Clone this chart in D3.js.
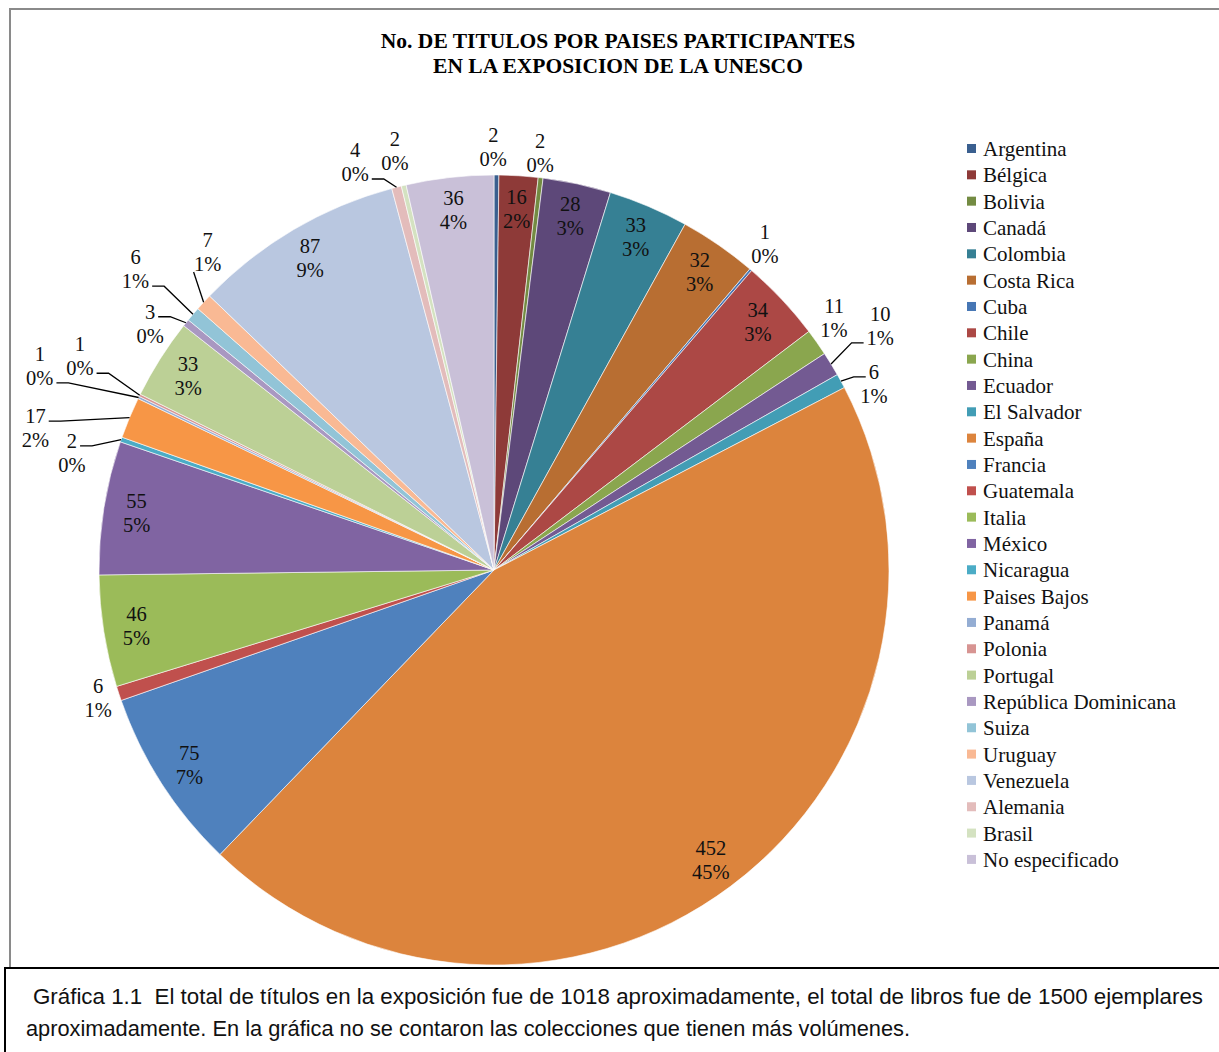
<!DOCTYPE html>
<html>
<head>
<meta charset="utf-8">
<script src="https://cdn.jsdelivr.net/npm/d3@7"></script>
<style>
  body { margin: 0; background: #fff; }
  svg { display: block; }
  .lbl { font-family: "Liberation Serif", "Times New Roman", serif; font-size: 20.5px; fill: #111; }
  .leg { font-family: "Liberation Serif", "Times New Roman", serif; font-size: 21px; fill: #111; }
</style>
</head>
<body>
<div id="chart"></div>
<script>
const COUNTRIES = ['Argentina', 'Bélgica', 'Bolivia', 'Canadá', 'Colombia', 'Costa Rica', 'Cuba', 'Chile', 'China',
  'Ecuador', 'El Salvador', 'España', 'Francia', 'Guatemala', 'Italia', 'México', 'Nicaragua', 'Paises Bajos',
  'Panamá', 'Polonia', 'Portugal', 'República Dominicana', 'Suiza', 'Uruguay', 'Venezuela', 'Alemania', 'Brasil',
  'No especificado'];
const TITLES = [2, 16, 2, 28, 33, 32, 1, 34, 11, 10, 6, 452, 75, 6, 46, 55, 2, 17, 1, 1, 33, 3, 6, 7, 87, 4, 2, 36];
const COLORS = ['#3a5f8f', '#8e3a38', '#738b42', '#5d4879', '#368094', '#b86e32', '#4676b4', '#ac4845', '#8aa64e',
  '#735a92', '#429db5', '#dc843d', '#4f81bd', '#c0504d', '#9bbb59', '#8064a2', '#4bacc6', '#f79646',
  '#94add3', '#d79492', '#bcd096', '#a998c1', '#92c4d7', '#f9b994', '#b9c7e0', '#e3bcbb', '#d4e2c1', '#c9c0d8'];
const TITLE_LINES = ['No. DE TITULOS POR PAISES PARTICIPANTES', 'EN LA EXPOSICION DE LA UNESCO'];
const CAPTION = ['Gráfica 1.1  El total de títulos en la exposición fue de 1018 aproximadamente, el total de libros fue de 1500 ejemplares',
  'aproximadamente. En la gráfica no se contaron las colecciones que tienen más volúmenes.'];

// outside labels: [angle deg, radius, leader: -1 none, 0 first line, 1 second line, 2 below]
const outside = {
  'Argentina': [359.9, 423, -1], 'Bolivia': [6.3, 420, -1], 'Cuba': [39.7, 424, -1],
  'China': [53.5, 423, -1], 'Ecuador': [57.7, 457, 1], 'El Salvador': [63.9, 423, 0],
  'Guatemala': [252.1, 416, -1], 'Nicaragua': [285.5, 438, 0], 'Paises Bajos': [287.2, 480, 0],
  'Panamá': [294.2, 498, 1], 'Polonia': [297.3, 466, 1], 'República Dominicana': [305.6, 423, 0],
  'Suiza': [310, 468, 1], 'Uruguay': [318, 428, 2], 'Alemania': [341.2, 431, 1], 'Brasil': [346.7, 431, -1]
};

const W = 1219, H = 1052;
const cx = 494, cy = 570, R = 395;

const svg = d3.select('#chart').append('svg')
  .attr('width', W).attr('height', H);

// chart frame
svg.append('rect')
  .attr('x', 10).attr('y', 9).attr('width', 1300).attr('height', 1000)
  .attr('fill', 'none').attr('stroke', '#8a8a8a').attr('stroke-width', 2);

svg.selectAll('.title').data(TITLE_LINES).enter().append('text')
  .attr('x', 618).attr('y', (d, i) => 48 + i * 25)
  .attr('text-anchor', 'middle')
  .style('font-family', '"Liberation Serif", "Times New Roman", serif')
  .style('font-weight', 'bold').style('font-size', '21.5px')
  .text(d => d);

const data = COUNTRIES.map((c, i) => ({ name: c, value: TITLES[i], color: COLORS[i] }));
const total = d3.sum(TITLES);

const pie = d3.pie().sort(null).value(d => d.value);
const arcs = pie(data);
const arc = d3.arc().innerRadius(0).outerRadius(R);

const g = svg.append('g').attr('transform', 'translate(' + cx + ',' + cy + ')');

g.selectAll('path').data(arcs).enter().append('path')
  .attr('d', arc)
  .attr('fill', d => d.data.color)
  .attr('stroke', '#fff').attr('stroke-width', 0.6);

const polar = (deg, r) => {
  const a = deg * Math.PI / 180;
  return [Math.sin(a) * r, -Math.cos(a) * r];
};
const pct = v => Math.round(v / total * 100) + '%';

arcs.forEach(d => {
  const mid = (d.startAngle + d.endAngle) / 2 * 180 / Math.PI;
  const o = outside[d.data.name];
  let lx, ly;
  if (o) {
    [lx, ly] = polar(o[0], o[1]);
  } else {
    [lx, ly] = polar(mid, 362);
  }
  const t = g.append('text').attr('class', 'lbl').attr('text-anchor', 'middle');
  const l1 = t.append('tspan').attr('x', lx).attr('y', ly - 5).text(d.data.value);
  const l2 = t.append('tspan').attr('x', lx).attr('y', ly + 19).text(pct(d.data.value));

  if (o && o[2] >= 0) {
    const [ax, ay] = polar(mid, R);
    const side = lx < ax ? 1 : -1;
    let pts;
    if (o[2] === 2) {
      pts = [[ax, ay], [lx - 14, ly + 20]];
    } else {
      const span = o[2] === 0 ? l1 : l2;
      const hw = span.node().getComputedTextLength() / 2;
      const ey = ly + (o[2] === 0 ? -12 : 12) + 5;
      const ex = lx + side * (hw + 3);
      pts = [[ax, ay], [ex + side * 12, ey], [ex, ey]];
    }
    g.append('path')
      .attr('d', d3.line()(pts))
      .attr('fill', 'none').attr('stroke', '#000').attr('stroke-width', 1.3);
  }
});

// legend
const legend = svg.append('g').attr('transform', 'translate(967,149)');
const rows = legend.selectAll('g').data(data).enter().append('g')
  .attr('transform', (d, i) => 'translate(0,' + (i * 26.33) + ')');
rows.append('rect').attr('x', 0).attr('y', -5).attr('width', 9).attr('height', 9)
  .attr('fill', d => d.color);
rows.append('text').attr('class', 'leg').attr('x', 16).attr('y', 7)
  .text(d => d.name);

// caption box
svg.append('rect')
  .attr('x', 5).attr('y', 968).attr('width', 1300).attr('height', 200)
  .attr('fill', '#fff').attr('stroke', '#000').attr('stroke-width', 2);
svg.selectAll('.cap').data(CAPTION).enter().append('text')
  .attr('x', (d, i) => i === 0 ? 33 : 26)
  .attr('y', (d, i) => 1004 + i * 32)
  .attr('textLength', (d, i) => i === 0 ? 1170 : 884)
  .attr('lengthAdjust', 'spacingAndGlyphs')
  .style('white-space', 'pre')
  .style('font-family', '"Liberation Sans", Arial, sans-serif')
  .style('font-size', '21.5px').style('fill', '#111')
  .text(d => d);
</script>
</body>
</html>
